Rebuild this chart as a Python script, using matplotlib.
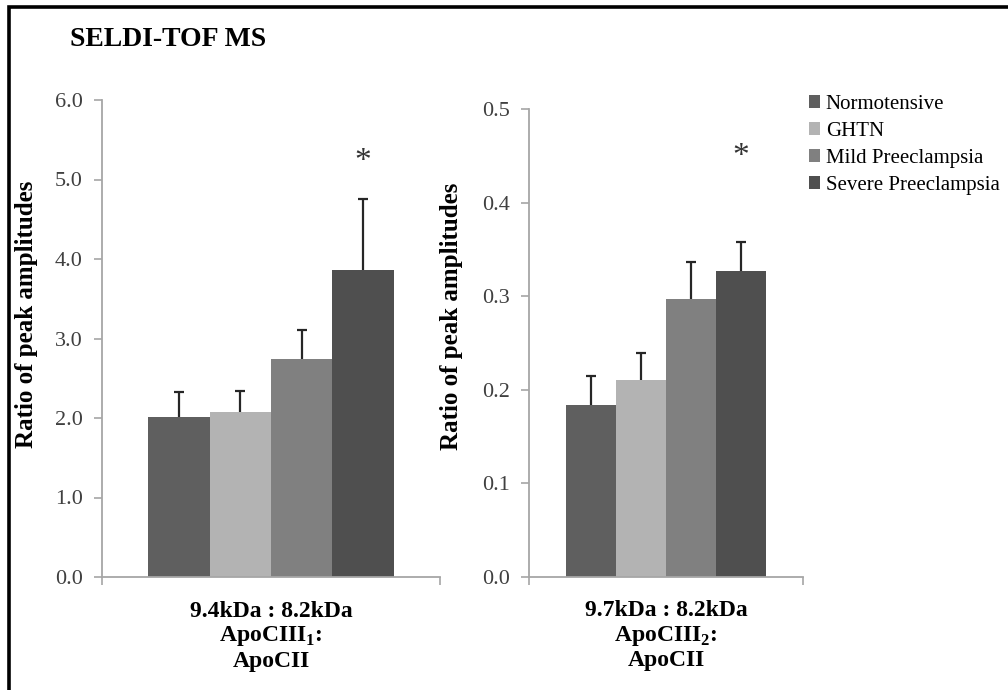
import numpy as np
import matplotlib
matplotlib.use("Agg")
import matplotlib.pyplot as plt
from matplotlib.patches import Rectangle

plt.rcParams['font.family'] = ['Liberation Serif', 'DejaVu Serif']
plt.rcParams['mathtext.fontset'] = 'custom'
plt.rcParams['mathtext.rm'] = 'Liberation Serif:bold'
plt.rcParams['mathtext.bf'] = 'Liberation Serif:bold'

# data
groups = ['Normotensive', 'GHTN', 'Mild Preeclampsia', 'Severe Preeclampsia']
colors = ['#5f5f5f', '#b3b3b3', '#808080', '#4f4f4f']

ratio1 = [2.01, 2.07, 2.74, 3.86]
err1 = [0.32, 0.27, 0.37, 0.90]
ratio2 = [0.184, 0.210, 0.297, 0.327]
err2 = [0.031, 0.029, 0.040, 0.031]

xlabel1 = '9.4kDa : 8.2kDa\nApoCIII$_1$:\nApoCII'
xlabel2 = '9.7kDa : 8.2kDa\nApoCIII$_2$:\nApoCII'
star_y = [5.22, 0.449]

fig = plt.figure(figsize=(10.08, 6.9), dpi=100)

# frame round the whole picture
fig.patches.append(Rectangle((9 / 1008, -0.05), 1.2, 1 - 7 / 690 + 0.05,
                             transform=fig.transFigure, fill=False,
                             edgecolor='black', linewidth=2.6))

ax1 = fig.add_axes([102 / 1008, 113 / 690, 338 / 1008, 477 / 690])
ax2 = fig.add_axes([529 / 1008, 113 / 690, 274 / 1008, 468 / 690])

axis_grey = '#a6a6a6'
tick_col = '#404040'


def draw_panel(ax, vals, errs, ymax, ystep, fmt, xlab, sy):
    x = np.arange(len(vals))
    bars = ax.bar(x, vals, width=1.0, color=colors, label=groups)
    eb = ax.errorbar(x, vals, yerr=[np.zeros(len(errs)), errs], fmt='none',
                     ecolor='#262626', elinewidth=1.6, capsize=3.5, capthick=1.6)
    # only the upper cap is drawn
    eb[1][0].set_visible(False)
    ax.text(x[-1], sy, '*', ha='center', va='center', fontsize=24, color='#333333')
    ax.set_xlim(-1.25, 4.25)
    ax.set_ylim(0, ymax)
    ticks = np.arange(0, ymax + ystep / 2, ystep)
    ax.set_yticks(ticks)
    ax.set_yticklabels([fmt.format(v) for v in ticks])
    ax.set_xticks([-1.25, 4.25])
    ax.set_xticklabels(['', ''])
    for s in ['top', 'right']:
        ax.spines[s].set_visible(False)
    for s in ['left', 'bottom']:
        ax.spines[s].set_color(axis_grey)
        ax.spines[s].set_linewidth(1.3)
    ax.tick_params(axis='y', direction='out', length=6, width=1.2, color=axis_grey,
                   labelsize=16, labelcolor=tick_col, pad=8)
    ax.tick_params(axis='x', direction='out', length=6, width=1.2, color=axis_grey)
    ax.set_ylabel('Ratio of peak amplitudes', fontsize=18, fontweight='bold')
    ax.text(0.5, -0.05, xlab, transform=ax.transAxes, ha='center', va='top',
            fontsize=17, fontweight='bold', linespacing=1.15)
    return bars


bars = draw_panel(ax1, ratio1, err1, 6.0, 1.0, '{:.1f}', xlabel1, star_y[0])
draw_panel(ax2, ratio2, err2, 0.5, 0.1, '{:.1f}', xlabel2, star_y[1])
ax1.yaxis.set_label_coords(-0.19, 0.55)
ax2.yaxis.set_label_coords(-0.24, 0.558)

fig.text(70 / 1008, 1 - 40 / 690, 'SELDI-TOF MS', fontsize=20, fontweight='bold',
         va='center', ha='left')

fig.legend(bars, groups, loc='upper left', bbox_to_anchor=(809 / 1008, 1 - 95 / 690),
           frameon=False, fontsize=15, handlelength=0.55, handleheight=0.55,
           handletextpad=0.25, labelspacing=0.38, borderaxespad=0, borderpad=0)

fig.savefig('out.png', dpi=100)
